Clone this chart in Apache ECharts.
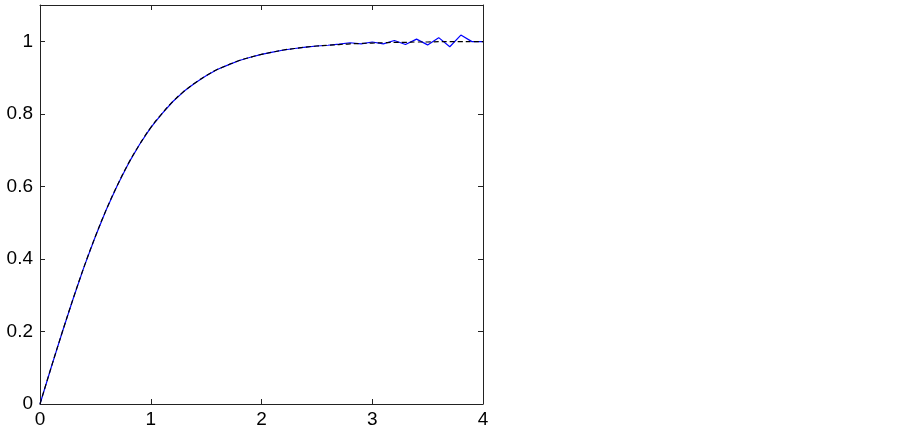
<!DOCTYPE html>
<html>
<head>
<meta charset="utf-8">
<script src="https://cdn.jsdelivr.net/npm/echarts@6/dist/echarts.min.js"></script>
<style>
  html, body { margin: 0; padding: 0; background: #fff; }
  #chart { width: 903px; height: 429px; }
</style>
</head>
<body>
<div id="chart"></div>
<script>
// x 采样点 (步长 0.1)
const xValues = [0, 0.1, 0.2, 0.3, 0.4, 0.5, 0.6, 0.7, 0.8, 0.9, 1.0,
  1.1, 1.2, 1.3, 1.4, 1.5, 1.6, 1.7, 1.8, 1.9, 2.0,
  2.1, 2.2, 2.3, 2.4, 2.5, 2.6, 2.7, 2.8, 2.9, 3.0,
  3.1, 3.2, 3.3, 3.4, 3.5, 3.6, 3.7, 3.8, 3.9, 4.0];

// 精确解 (黑色虚线)
const exactValues = [0, 0.100, 0.197, 0.291, 0.380, 0.462, 0.537, 0.604, 0.664, 0.716, 0.762,
  0.800, 0.834, 0.862, 0.885, 0.905, 0.922, 0.935, 0.947, 0.956, 0.964,
  0.970, 0.976, 0.980, 0.984, 0.987, 0.989, 0.991, 0.993, 0.994, 0.995,
  0.996, 0.997, 0.997, 0.998, 0.998, 0.999, 0.999, 0.999, 0.999, 0.999];

// 数值解 (蓝色实线, 末端振荡)
const approxValues = [0, 0.100, 0.197, 0.291, 0.380, 0.462, 0.537, 0.604, 0.664, 0.716, 0.762,
  0.800, 0.834, 0.862, 0.885, 0.905, 0.922, 0.935, 0.947, 0.956, 0.964,
  0.970, 0.976, 0.980, 0.984, 0.987, 0.989, 0.992, 0.996, 0.993, 0.998,
  0.993, 1.002, 0.991, 1.006, 0.990, 1.010, 0.985, 1.017, 0.999, 0.999];

const xTicks = [0, 1, 2, 3, 4];
const yTicks = [0, 0.2, 0.4, 0.6, 0.8, 1];

const chart = echarts.init(document.getElementById('chart'));

const axisColor = '#222';
const fontFamily = 'Liberation Sans, Arial, sans-serif';

const boxAxis = (extra) => Object.assign({
  type: 'value',
  axisLine: { show: true, onZero: false, lineStyle: { color: axisColor, width: 1 } },
  axisTick: { show: true, inside: true, length: 5, lineStyle: { color: axisColor } },
  splitLine: { show: false }
}, extra);

const option = {
  animation: false,
  backgroundColor: '#fff',
  grid: { left: 40, right: 420, top: 5, bottom: 24 },
  xAxis: [
    boxAxis({
      min: 0, max: 4, interval: 1, position: 'bottom',
      axisLabel: {
        color: '#000', fontSize: 19, fontFamily: fontFamily, margin: 6,
        formatter: (v) => xTicks.includes(v) ? String(v) : ''
      }
    }),
    boxAxis({
      min: 0, max: 4, interval: 1, position: 'top',
      axisLabel: { show: false }
    })
  ],
  yAxis: [
    boxAxis({
      min: 0, max: 1.1, interval: 0.2, position: 'left',
      axisLabel: {
        color: '#000', fontSize: 19, fontFamily: fontFamily, margin: 7,
        showMaxLabel: false,
        formatter: (v) => {
          const r = Math.round(v * 10) / 10;
          return yTicks.includes(r) ? String(r) : '';
        }
      }
    }),
    boxAxis({
      min: 0, max: 1.1, interval: 0.2, position: 'right',
      axisLabel: { show: false }
    })
  ],
  series: [
    {
      name: 'approx',
      type: 'line',
      xAxisIndex: 0,
      yAxisIndex: 0,
      showSymbol: false,
      data: xValues.map((x, i) => [x, approxValues[i]]),
      lineStyle: { color: '#0000ff', width: 1.2 },
      z: 2
    },
    {
      name: 'exact',
      type: 'line',
      xAxisIndex: 0,
      yAxisIndex: 0,
      showSymbol: false,
      smooth: true,
      data: xValues.map((x, i) => [x, exactValues[i]]),
      lineStyle: { color: '#000', width: 1.2, type: [5, 3] },
      z: 3
    }
  ]
};

chart.setOption(option);
</script>
</body>
</html>
